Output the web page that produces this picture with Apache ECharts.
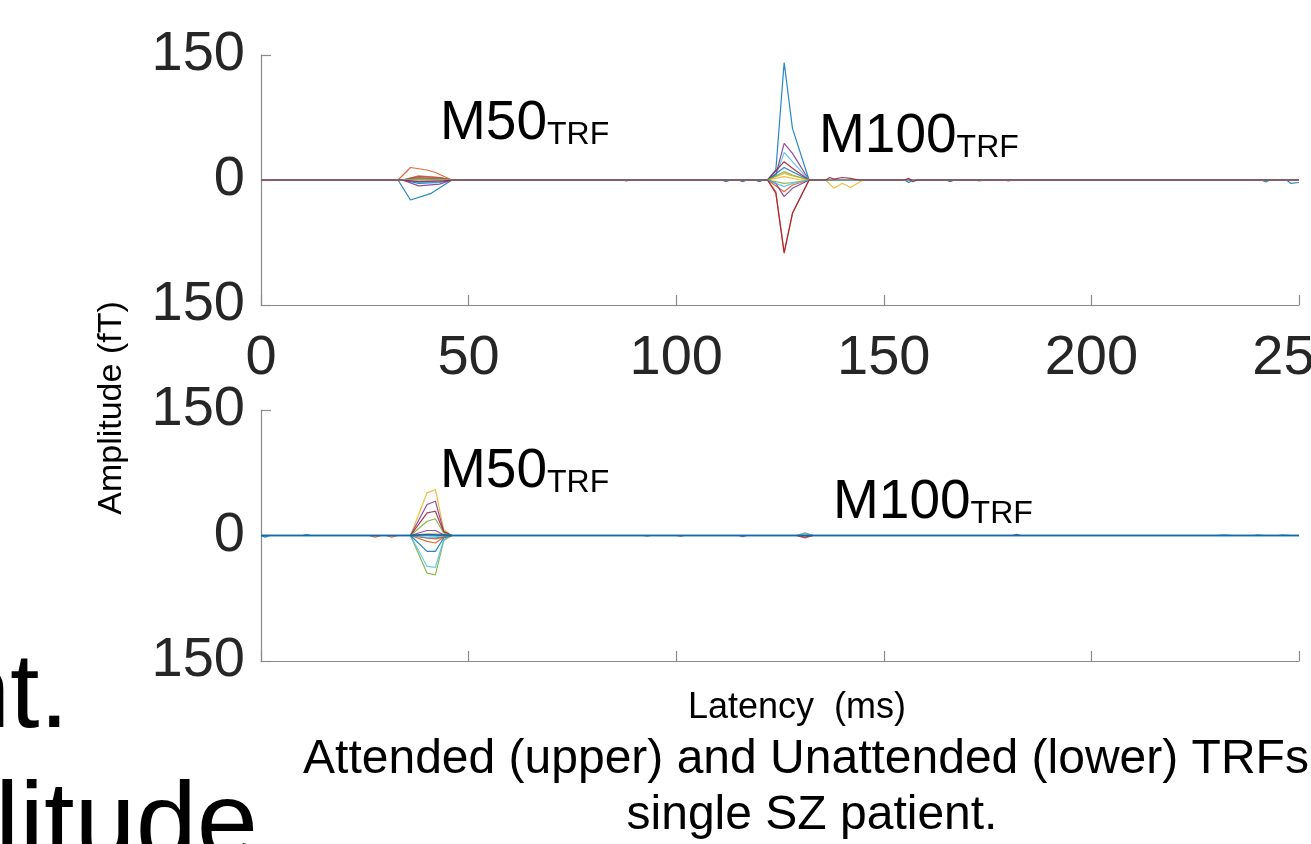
<!DOCTYPE html>
<html>
<head>
<meta charset="utf-8">
<script src="https://cdn.jsdelivr.net/npm/echarts@6/dist/echarts.min.js"></script>
<style>
html,body{margin:0;padding:0;background:#fff;overflow:hidden;}
#chart{width:1311px;height:844px;}
</style>
</head>
<body>
<div id="chart"></div>
<script>
// ---- Tick labels ----
var xTickValues = [0, 50, 100, 150, 200, 250];
var xTickLabels = ['0', '50', '100', '150', '200', '250'];
var yTickValues = [-150, 0, 150];
var yTickLabels = ['150', '0', '150'];

// MATLAB default colour order
var colorOrder = ['#0072BD', '#D95319', '#EDB120', '#7E2F8E', '#77AC30', '#4DBEEE', '#A2142F'];

// ---- Attended (upper) TRFs : [latency ms, amplitude fT] ----
var u01 = [[0,0],[33,0],[36,-24],[41,-16],[46,0],[87,0],[88,-1],[89,0],[111,0],[112,-2],[113,0],[115,0],[116,-2],[117,0],[119,0],[120,-2],[121,0],[122,0],[124,12],[126,141],[128,62],[132,0],[155,0],[156,-3],[157,0],[165,0],[166,-2],[167,0],[241,0],[242,-2.5],[243,0],[247,0],[248,-4],[250,-3]];
var u02 = [[0,0],[33,0],[36,15],[40,12],[42,9],[46,0],[122,0],[124,-14],[126,-88],[128,-40],[132,0],[250,0]];
var u03 = [[0,0],[34,0],[38,3],[44,2],[46,0],[122,0],[126,4],[130,0],[136,0],[138,-10],[140,-4],[142,-9],[145,0],[250,0]];
var u04 = [[0,0],[34,0],[38,4],[43,3],[46,0],[122,0],[124,6],[126,44],[128,32],[132,0],[250,0]];
var u05 = [[0,0],[122,0],[126,-4],[128,-3],[132,0],[250,0]];
var u06 = [[0,0],[34,0],[38,-3],[43,-2],[46,0],[122,0],[124,5],[126,33],[128,22],[132,0],[172,0],[173,-1.5],[174,0],[179,0],[180,-1.5],[181,0],[250,0]];
var u07 = [[0,0],[34,0],[38,2],[44,1],[46,0],[122,0],[126,22],[128,14],[132,0],[250,0]];
var u08 = [[0,0],[34,0],[38,-4],[43,-3],[46,0],[122,0],[126,15],[128,10],[132,0],[250,0]];
var u09 = [[0,0],[34,0],[38,5],[43,3],[46,0],[122,0],[126,-14],[128,-6],[132,0],[250,0]];
var u10 = [[0,0],[34,0],[38,1],[46,0],[122,0],[126,8],[128,5],[132,0],[250,0]];
var u11 = [[0,0],[34,0],[38,-7],[43,-5],[46,0],[122,0],[124,-4],[126,-20],[128,-10],[132,0],[250,0]];
var u12 = [[0,0],[34,0],[38,1.5],[46,0],[122,0],[126,10],[128,6],[132,0],[250,0]];
var u13 = [[0,0],[122,0],[126,-8],[128,-4],[132,0],[250,0]];
var u14 = [[0,0],[34,0],[38,-2],[44,-1],[46,0],[122,0],[124,-16],[126,-87],[128,-40],[132,0],[136,0],[137,3],[138,1],[140,3],[142,2],[144,0],[155,0],[156,2],[157,-2],[158,0],[250,0]];

// ---- Unattended (lower) TRFs ----
var l01 = [[0,0],[1,-2],[2,0],[10,0],[11,1],[12,0],[36,0],[40,-3],[42,-3],[46,0],[250,0]];
var l02 = [[0,0],[26,0],[27.5,-2],[29,0],[30,0],[31.5,-2],[33,0],[36,0],[40,-7],[42,-9],[44,-2],[46,0],[129,0],[131,-3],[133,0],[250,0]];
var l03 = [[0,0],[36,0],[40,51],[42,55],[44,7],[46,0],[250,0]];
var l04 = [[0,0],[36,0],[40,37],[42,41],[44,5],[46,0],[115,0],[116,-1.5],[117,0],[250,0]];
var l05 = [[0,0],[36,0],[40,-45],[42,-47],[44,-6],[46,0],[92,0],[93,-1],[94,0],[250,0]];
var l06 = [[0,0],[36,0],[40,-37],[42,-38],[44,-5],[46,0],[129,0],[131,3],[133,0],[230,0],[232,1],[234,0],[250,0]];
var l07 = [[0,0],[36,0],[40,27],[42,29],[44,4],[46,0],[129,0],[131,-2],[133,0],[250,0]];
var l08 = [[0,0],[36,0],[40,-19],[42,-19],[44,-3],[46,0],[250,0]];
var l09 = [[0,0],[36,0],[40,-3],[42,-4],[46,0],[100,0],[101,-1],[102,0],[250,0]];
var l10 = [[0,0],[36,0],[40,2],[42,2],[46,0],[250,0]];
var l11 = [[0,0],[36,0],[40,6],[42,6],[44,1],[46,0],[181,0],[182,1.5],[183,0],[250,0]];
var l12 = [[0,0],[36,0],[40,17],[42,20],[44,3],[46,0],[129,0],[131,3],[133,0],[250,0]];
var l13 = [[0,0],[36,0],[40,-2],[46,0],[129,0],[131,2],[133,0],[239,0],[240,1],[242,0],[245,0],[246,1],[248,0],[250,0]];
var l14 = [[0,0],[36,0],[40,1],[46,0],[250,0]];
var l15 = [[0,0],[36,0],[40,1],[46,0],[250,0]];

var upperSeries = [u01,u02,u03,u04,u05,u06,u07,u08,u09,u10,u11,u12,u13,u14];
var lowerSeries = [l01,l02,l03,l04,l05,l06,l07,l08,l09,l10,l11,l12,l13,l14,l15];

var FONT = 'Liberation Sans, Arial, Helvetica, sans-serif';
var AXIS_GRAY = '#8a8a8a';
var TICK_TXT = '#262626';

function xAxisDef(gridIndex, showLabels) {
  return {
    type: 'value', gridIndex: gridIndex, min: 0, max: 250, interval: 50,
    axisLine: { show: true, onZero: false, lineStyle: { color: AXIS_GRAY, width: 1.2 } },
    axisTick: { show: true, inside: true, length: 10, lineStyle: { color: AXIS_GRAY, width: 1.2 } },
    axisLabel: {
      show: showLabels, fontSize: 56, color: TICK_TXT, fontFamily: FONT, margin: 26,
      hideOverlap: false,
      formatter: function (v) { var i = xTickValues.indexOf(v); return i >= 0 ? xTickLabels[i] : ''; }
    },
    splitLine: { show: false }
  };
}
function yAxisDef(gridIndex) {
  return {
    type: 'value', gridIndex: gridIndex, min: -150, max: 150, interval: 150,
    axisLine: { show: true, onZero: false, lineStyle: { color: AXIS_GRAY, width: 1.2 } },
    axisTick: { show: true, inside: true, length: 10, lineStyle: { color: AXIS_GRAY, width: 1.2 } },
    axisLabel: {
      fontSize: 56, color: TICK_TXT, fontFamily: FONT, margin: 16,
      formatter: function (v) { var i = yTickValues.indexOf(v); return i >= 0 ? yTickLabels[i] : ''; }
    },
    splitLine: { show: false }
  };
}

var series = [];
upperSeries.forEach(function (d, i) {
  series.push({ type: 'line', xAxisIndex: 0, yAxisIndex: 0, data: d, showSymbol: false, silent: true,
    lineStyle: { width: 1.2, color: colorOrder[i % 7], opacity: 0.85 }, z: 2 });
});
lowerSeries.forEach(function (d, i) {
  series.push({ type: 'line', xAxisIndex: 1, yAxisIndex: 1, data: d, showSymbol: false, silent: true,
    lineStyle: { width: i === lowerSeries.length - 1 ? 1.8 : 1.2, color: colorOrder[i % 7], opacity: 0.85 }, z: 2 });
});

function label(x, y, main) {
  return {
    type: 'text', left: x, top: y, z: 10,
    style: {
      text: '{a|' + main + '}{b|TRF}',
      rich: {
        a: { fontSize: 55, fontFamily: FONT, fill: '#000', verticalAlign: 'bottom', lineHeight: 62 },
        b: { fontSize: 32, fontFamily: FONT, fill: '#000', verticalAlign: 'bottom', lineHeight: 62 }
      }
    }
  };
}

var chart = echarts.init(document.getElementById('chart'), null, { renderer: 'canvas' });
chart.setOption({
  animation: false,
  backgroundColor: '#ffffff',
  grid: [
    { left: 261, top: 55, width: 1038, height: 250, containLabel: false, outerBoundsMode: 'none' },
    { left: 261, top: 410, width: 1038, height: 251, containLabel: false, outerBoundsMode: 'none' }
  ],
  xAxis: [xAxisDef(0, true), xAxisDef(1, false)],
  yAxis: [yAxisDef(0), yAxisDef(1)],
  series: series,
  graphic: [
    label(440, 96, 'M50'),
    label(819, 109, 'M100'),
    label(440, 444, 'M50'),
    label(833, 475, 'M100'),
    { type: 'text', x: 112, y: 408, rotation: Math.PI / 2, z: 10,
      style: { text: 'Amplitude (fT)', fontSize: 34, fontFamily: FONT, fill: '#000', align: 'center', verticalAlign: 'middle' } },
    { type: 'text', x: 797, y: 708, z: 10,
      style: { text: 'Latency  (ms)', fontSize: 36, fontFamily: FONT, fill: '#000', align: 'center', verticalAlign: 'middle' } },
    { type: 'text', x: 806, y: 760, z: 10,
      style: { text: 'Attended (upper) and Unattended (lower) TRFs', fontSize: 48, fontFamily: FONT, fill: '#000', align: 'center', verticalAlign: 'middle' } },
    { type: 'text', x: 812, y: 816, z: 10,
      style: { text: 'single SZ patient.', fontSize: 48, fontFamily: FONT, fill: '#000', align: 'center', verticalAlign: 'middle' } },
    { type: 'text', x: 69, y: 698, z: 10,
      style: { text: 'ent.', fontSize: 106, fontFamily: FONT, fill: '#000', align: 'right', verticalAlign: 'middle' } },
    { type: 'text', x: 258, y: 828, z: 10,
      style: { text: 'Amplitude', fontSize: 110, fontFamily: FONT, fill: '#000', align: 'right', verticalAlign: 'middle' } }
  ]
});
</script>
</body>
</html>
